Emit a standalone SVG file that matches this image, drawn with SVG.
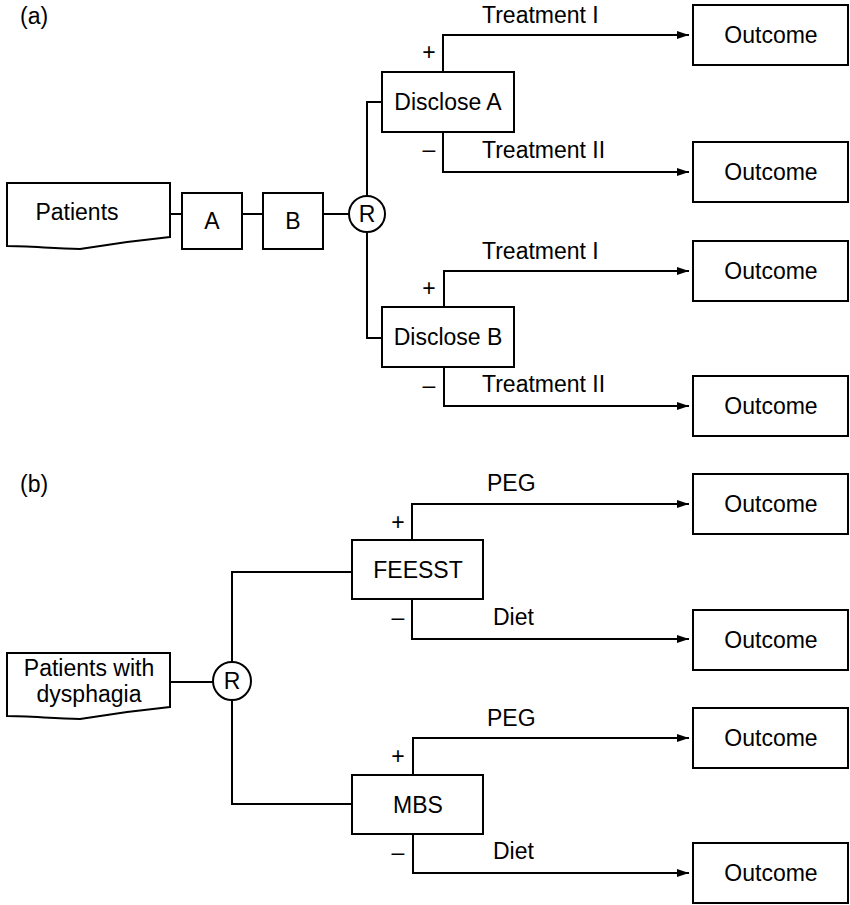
<svg xmlns="http://www.w3.org/2000/svg" width="850" height="905" viewBox="0 0 850 905">
  <style>
    .box { fill: #fff; stroke: #000; stroke-width: 2; }
    .wire { fill: none; stroke: #000; stroke-width: 2; }
    .arrow { fill: none; stroke: #000; stroke-width: 2; marker-end: url(#head); }
    text { font-family: "Liberation Sans", Arial, Helvetica, sans-serif; font-size: 23px; fill: #000; }
    .c { text-anchor: middle; }
  </style>
  <defs>
    <marker id="head" viewBox="0 0 12 8" refX="12" refY="4" markerWidth="12" markerHeight="8" markerUnits="userSpaceOnUse" orient="auto">
      <path d="M0,0 L12,4 L0,8 Z" fill="#000"/>
    </marker>
  </defs>

  <rect width="850" height="905" fill="#fff"/>

  <!-- panel labels -->
  <text x="20" y="24">(a)</text>
  <text x="20" y="492">(b)</text>

  <!-- connectors -->
  <g id="connectors">
    <!-- panel (a) -->
    <path class="wire" d="M170,214 H182 M242,214 H263 M323,214 H349"/>
    <path class="wire" d="M382,102 H367 V196 M367,232 V338 H382"/>
    <path class="arrow" d="M443,72 V35 H689"/>
    <path class="arrow" d="M443,132 V172 H689"/>
    <path class="arrow" d="M444,307 V271 H689"/>
    <path class="arrow" d="M444,367 V406 H689"/>
    <!-- panel (b) -->
    <path class="wire" d="M170,682 H213"/>
    <path class="wire" d="M352,572 H232 V662 M232,700 V804 H352"/>
    <path class="arrow" d="M412,540 V504 H689"/>
    <path class="arrow" d="M412,599 V639 H689"/>
    <path class="arrow" d="M413,775 V738 H689"/>
    <path class="arrow" d="M413,834 V873 H689"/>
  </g>

  <!-- branch labels -->
  <g id="labels">
    <text x="482" y="23">Treatment I</text>
    <text x="482" y="158">Treatment II</text>
    <text x="482" y="259">Treatment I</text>
    <text x="482" y="392">Treatment II</text>
    <text class="c" x="429" y="60">+</text>
    <text class="c" x="429" y="157">–</text>
    <text class="c" x="429" y="296">+</text>
    <text class="c" x="429" y="393">–</text>

    <text x="487" y="491">PEG</text>
    <text x="493" y="625">Diet</text>
    <text x="487" y="726">PEG</text>
    <text x="493" y="859">Diet</text>
    <text class="c" x="398" y="530">+</text>
    <text class="c" x="398" y="625">–</text>
    <text class="c" x="398" y="764">+</text>
    <text class="c" x="398" y="860">–</text>
  </g>

  <!-- panel (a) nodes -->
  <g id="patients-a">
    <path class="box" d="M7,183 H170 V237 C140,240 110,244 80,249 C50,248 25,246 7,246 Z"/>
    <text class="c" x="77" y="220">Patients</text>
  </g>
  <g id="test-a">
    <rect class="box" x="182" y="193" width="60" height="56"/>
    <text class="c" x="212" y="229">A</text>
  </g>
  <g id="test-b">
    <rect class="box" x="263" y="193" width="60" height="56"/>
    <text class="c" x="293" y="229">B</text>
  </g>
  <g id="random-a">
    <circle class="box" cx="367" cy="214" r="18"/>
    <text class="c" x="367" y="222">R</text>
  </g>
  <g id="disclose-a">
    <rect class="box" x="382" y="72" width="132" height="60"/>
    <text class="c" x="448" y="110">Disclose A</text>
  </g>
  <g id="disclose-b">
    <rect class="box" x="382" y="307" width="132" height="60"/>
    <text class="c" x="448" y="345">Disclose B</text>
  </g>
  <g id="outcome-a1">
    <rect class="box" x="693" y="5" width="155" height="60"/>
    <text class="c" x="771" y="43">Outcome</text>
  </g>
  <g id="outcome-a2">
    <rect class="box" x="693" y="142" width="155" height="60"/>
    <text class="c" x="771" y="180">Outcome</text>
  </g>
  <g id="outcome-a3">
    <rect class="box" x="693" y="241" width="155" height="60"/>
    <text class="c" x="771" y="279">Outcome</text>
  </g>
  <g id="outcome-a4">
    <rect class="box" x="693" y="376" width="155" height="60"/>
    <text class="c" x="771" y="414">Outcome</text>
  </g>

  <!-- panel (b) nodes -->
  <g id="patients-b">
    <path class="box" d="M7,653 H170 V707 C140,710 110,714 80,719 C50,718 25,716 7,716 Z"/>
    <text class="c" x="89" y="676">Patients with</text>
    <text class="c" x="89" y="702">dysphagia</text>
  </g>
  <g id="random-b">
    <circle class="box" cx="232" cy="681" r="19"/>
    <text class="c" x="232" y="689">R</text>
  </g>
  <g id="feesst">
    <rect class="box" x="352" y="540" width="131" height="59"/>
    <text class="c" x="418" y="578">FEESST</text>
  </g>
  <g id="mbs">
    <rect class="box" x="352" y="775" width="131" height="59"/>
    <text class="c" x="418" y="813">MBS</text>
  </g>
  <g id="outcome-b1">
    <rect class="box" x="693" y="474" width="155" height="60"/>
    <text class="c" x="771" y="512">Outcome</text>
  </g>
  <g id="outcome-b2">
    <rect class="box" x="693" y="610" width="155" height="60"/>
    <text class="c" x="771" y="648">Outcome</text>
  </g>
  <g id="outcome-b3">
    <rect class="box" x="693" y="708" width="155" height="60"/>
    <text class="c" x="771" y="746">Outcome</text>
  </g>
  <g id="outcome-b4">
    <rect class="box" x="693" y="843" width="155" height="60"/>
    <text class="c" x="771" y="881">Outcome</text>
  </g>
</svg>
